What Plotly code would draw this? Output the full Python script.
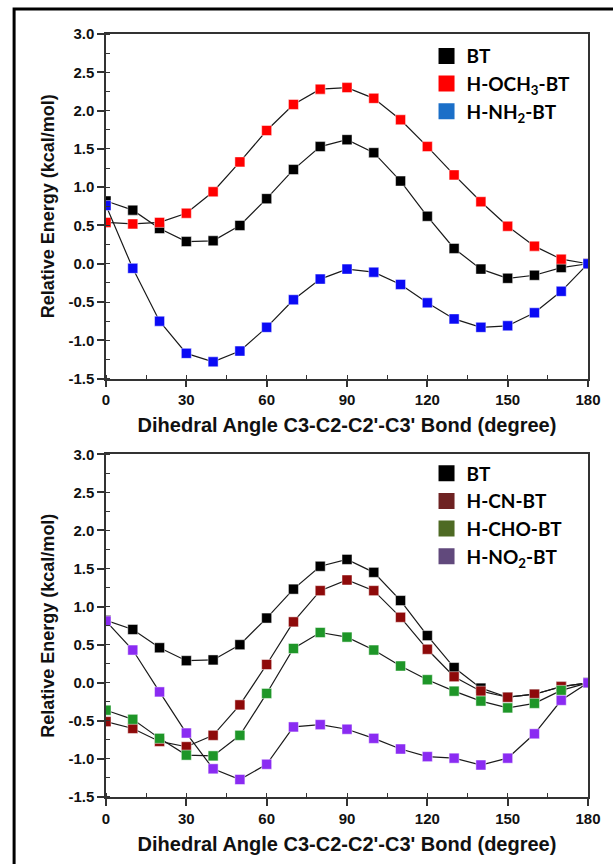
import plotly.graph_objects as go
from plotly.subplots import make_subplots

angles = [0, 10, 20, 30, 40, 50, 60, 70, 80, 90, 100, 110, 120, 130, 140, 150, 160, 170, 180]

bt = [0.82, 0.70, 0.46, 0.29, 0.30, 0.50, 0.85, 1.23, 1.53, 1.62, 1.45, 1.08, 0.62, 0.20, -0.07, -0.19, -0.15, -0.05, 0.0]
och3 = [0.54, 0.52, 0.54, 0.66, 0.94, 1.33, 1.74, 2.08, 2.28, 2.30, 2.16, 1.88, 1.53, 1.16, 0.81, 0.49, 0.23, 0.06, 0.0]
nh2 = [0.76, -0.06, -0.75, -1.17, -1.28, -1.14, -0.83, -0.47, -0.20, -0.07, -0.11, -0.27, -0.51, -0.72, -0.83, -0.81, -0.64, -0.36, 0.0]

cn = [-0.51, -0.60, -0.77, -0.84, -0.69, -0.29, 0.24, 0.80, 1.21, 1.35, 1.21, 0.86, 0.44, 0.08, -0.11, -0.19, -0.15, -0.05, 0.0]
cho = [-0.36, -0.48, -0.73, -0.95, -0.96, -0.69, -0.14, 0.45, 0.66, 0.60, 0.43, 0.22, 0.04, -0.11, -0.24, -0.33, -0.27, -0.10, 0.0]
no2 = [0.81, 0.43, -0.12, -0.66, -1.13, -1.27, -1.07, -0.58, -0.55, -0.61, -0.73, -0.87, -0.97, -0.99, -1.08, -0.99, -0.67, -0.23, 0.0]

top_names = ["BT", "H-OCH<sub>3</sub>-BT", "H-NH<sub>2</sub>-BT"]
bottom_names = ["BT", "H-CN-BT", "H-CHO-BT", "H-NO<sub>2</sub>-BT"]

top_series = [bt, och3, nh2]
bottom_series = [bt, cn, cho, no2]
top_marker_colors = ["#000000", "#FF0000", "#0A0AF5"]
top_legend_colors = ["#000000", "#FF0000", "#1B6FC8"]
bottom_marker_colors = ["#000000", "#8E0A0A", "#1E9628", "#8A2BF2"]
bottom_legend_colors = ["#000000", "#6E2222", "#4E6A24", "#61497C"]

x_ticks = [0, 30, 60, 90, 120, 150, 180]
x_tick_text = ["0", "30", "60", "90", "120", "150", "180"]
y_ticks = [-1.5, -1.0, -0.5, 0.0, 0.5, 1.0, 1.5, 2.0, 2.5, 3.0]
y_tick_text = ["-1.5", "-1.0", "-0.5", "0.0", "0.5", "1.0", "1.5", "2.0", "2.5", "3.0"]

fig = make_subplots(rows=2, cols=1)

def add_series(series_list, colors, row):
    for ys, c in zip(series_list, colors):
        fig.add_trace(go.Scatter(
            x=angles, y=ys, mode="lines+markers",
            line=dict(color="#1a1a1a", width=1.2),
            marker=dict(symbol="square", size=10, color=c,
                        line=dict(color="rgba(255,255,255,0.6)", width=0.8)),
            showlegend=False), row=row, col=1)

add_series(top_series, top_marker_colors, 1)
add_series(bottom_series, bottom_marker_colors, 2)

for name, c in zip(top_names, top_legend_colors):
    fig.add_trace(go.Scatter(x=[None], y=[None], mode="markers", name=name,
                             marker=dict(symbol="square", size=16, color=c),
                             legend="legend"), row=1, col=1)
for name, c in zip(bottom_names, bottom_legend_colors):
    fig.add_trace(go.Scatter(x=[None], y=[None], mode="markers", name=name,
                             marker=dict(symbol="square", size=16, color=c),
                             legend="legend2"), row=2, col=1)

H = 864
t, b = 34, 64
ph = H - t - b
top_dom = [(800 - 380) / ph, (800 - 34) / ph]
bot_dom = [0.0, (800 - 456) / ph]

tickfont = dict(family="Liberation Sans", size=15, color="#111", weight="bold")
xtitlefont = dict(family="Liberation Sans", size=20, color="#111", weight="bold")
ytitlefont = dict(family="Liberation Sans", size=18, color="#111", weight="bold")

xaxis_common = dict(
    range=[0, 180], tickvals=x_ticks, ticktext=x_tick_text, ticks="outside", ticklen=7,
    tickwidth=1.5, tickcolor="#333", showline=True, linecolor="#333", linewidth=1.5,
    mirror=True, showgrid=False, zeroline=False, tickfont=tickfont,
    minor=dict(ticks="inside", ticklen=4, tickcolor="#333", dtick=15, tickwidth=1.2),
    title=dict(text="Dihedral Angle C3-C2-C2'-C3' Bond (degree)", font=xtitlefont, standoff=11),
)
yaxis_common = dict(
    range=[-1.5, 3.0], tickvals=y_ticks, ticktext=y_tick_text, ticks="outside", ticklen=7,
    tickwidth=1.5, tickcolor="#333", showline=True, linecolor="#333", linewidth=1.5,
    mirror=True, showgrid=False, zeroline=False, tickfont=tickfont,
    minor=dict(ticks="inside", ticklen=4, tickcolor="#333", dtick=0.25, tickwidth=1.2),
    title=dict(text="Relative Energy (kcal/mol)", font=ytitlefont, standoff=9),
)

fig.update_xaxes(**xaxis_common)
fig.update_yaxes(**yaxis_common)
fig.update_layout(
    xaxis=dict(domain=[0, 1]), xaxis2=dict(domain=[0, 1]),
    yaxis=dict(domain=top_dom), yaxis2=dict(domain=bot_dom),
)

legfont = dict(family="Lato", size=19, color="#000", weight="bold")
fig.update_layout(
    width=613, height=864,
    margin=dict(l=106, r=14, t=t, b=b),
    paper_bgcolor="white", plot_bgcolor="white",
    legend=dict(x=0.665, y=top_dom[1] - 0.004, xanchor="left", yanchor="top",
                font=legfont, bgcolor="rgba(0,0,0,0)", itemsizing="trace",
                tracegroupgap=0),
    legend2=dict(x=0.665, y=bot_dom[1] - 0.0, xanchor="left", yanchor="top",
                 font=legfont, bgcolor="rgba(0,0,0,0)", itemsizing="trace",
                 tracegroupgap=0),
    shapes=[dict(type="rect", xref="paper", yref="paper",
                 x0=(12 - 106) / 493, x1=(640 - 106) / 493,
                 y0=(800 - 880) / ph, y1=(800 - 9) / ph,
                 line=dict(color="black", width=3), fillcolor="rgba(0,0,0,0)")],
)

fig.write_html("out.html")
